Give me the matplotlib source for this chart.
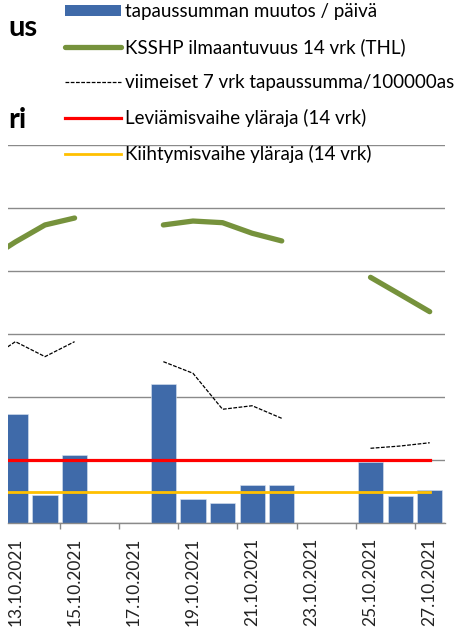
import numpy as np
import matplotlib.pyplot as plt
from matplotlib.patches import Patch

plt.rcParams['font.family'] = ['Lato', 'DejaVu Sans']

# päivät (lokakuu 2021), viikonloput tyhjinä
days = [12, 13, 14, 15, 16, 17, 18, 19, 20, 21, 22, 23, 24, 25, 26, 27]
nan = np.nan
daily_change = [nan, 86, 22, 54, nan, nan, 110, 19, 16, 30, 30, nan, nan, 48, 21, 26]
ksshp_14d = [208, 223, 236.5, 242, nan, nan, 236.5, 239.6, 238.3, 229.9, 223.8, nan, nan, 194.9, 181.3, 167.6]
last7_per100k = [128, 143.8, 131.9, 143.8, nan, nan, 127.9, 118.7, 90.1, 92.9, 82.9, nan, nan, 59.1, 60.9, 63.5]
spread_limit = [49.5] * len(days)
accel_limit = [24] * len(days)

label_days = [13, 15, 17, 19, 21, 23, 25, 27]
labels = [f"{d}.10.2021" for d in label_days]

W, H = 472, 639
fig = plt.figure(figsize=(W / 100, H / 100), dpi=100)
# akselin paikka pikseleinä (vasen, ylä, oikea, ala)
l, t, r, b = 8, 145, 444.5, 522.7
ax = fig.add_axes([l / W, 1 - b / H, (r - l) / W, (b - t) / H])

bars = ax.bar(days, daily_change, width=0.85, color='#3f6aa9', edgecolor='#dbe4f0',
              linewidth=0.4, zorder=2)
green, = ax.plot(days, ksshp_14d, color='#76923c', lw=3.8, solid_capstyle='round', zorder=3)
dashed, = ax.plot(days, last7_per100k, color='black', lw=0.9, ls=(0, (3, 1.2)), zorder=3)
red, = ax.plot(days, spread_limit, color='#ff0000', lw=2.3, zorder=4)
yellow, = ax.plot(days, accel_limit, color='#ffc000', lw=2.0, zorder=4)

ax.set_xlim(12.75, 27.5)
ax.set_ylim(0, 300)
ax.set_yticks(np.arange(0, 301, 50))
ax.yaxis.grid(True, color='#8a8a8a', lw=1.0, zorder=0)
ax.tick_params(axis='y', length=0, labelleft=False)

ax.set_xticks(label_days)
ax.set_xticklabels(labels, rotation=90, fontsize=12.5, color='#222222')
ax.set_xticks(np.arange(14.5, 27, 2), minor=True)
ax.tick_params(axis='x', which='major', length=0, pad=11)
ax.tick_params(axis='x', which='minor', length=4, color='#8a8a8a', width=1)

for s in ['top', 'right', 'left']:
    ax.spines[s].set_visible(False)
ax.spines['bottom'].set_color('#8a8a8a')
ax.spines['bottom'].set_linewidth(1.0)

# katkaistut otsikon loput vasemmalla
fig.text(8 / W, 1 - 36 / H, 'us', fontsize=21, fontweight='bold', ha='left', va='baseline')
fig.text(8 / W, 1 - 128 / H, 'ri', fontsize=21, fontweight='bold', ha='left', va='baseline')

handles = [Patch(facecolor='#3f6aa9'), green, dashed, red, yellow]
names = ['tapaussumman muutos / päivä', 'KSSHP ilmaantuvuus 14 vrk (THL)',
         'viimeiset 7 vrk tapaussumma/100000as', 'Leviämisvaihe yläraja (14 vrk)',
         'Kiihtymisvaihe yläraja (14 vrk)']
fig.legend(handles, names, loc='upper left', bbox_to_anchor=(65 / W, 1 - 3 / H),
           frameon=False, fontsize=13.5, handlelength=3.0, handleheight=0.5,
           handletextpad=0.2, labelspacing=0.96, borderpad=0, borderaxespad=0)

fig.savefig('out.png', dpi=100)
